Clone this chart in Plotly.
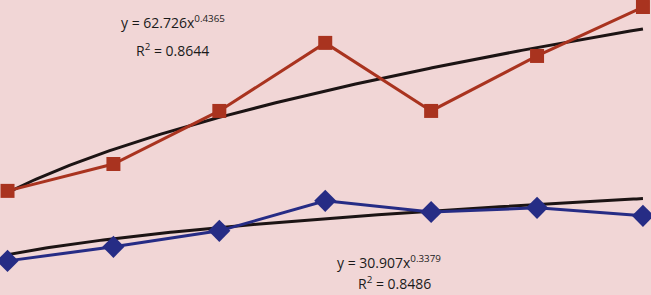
import numpy as np
import plotly.graph_objects as go

x_vals = [1, 2, 3, 4, 5, 6, 7]
red_vals = [63.6, 77.4, 104.6, 139.5, 104.6, 132.8, 157.9]
blue_vals = [27.7, 34.9, 43.1, 58.5, 52.8, 54.9, 50.8]

red_a, red_b, red_r2 = 62.726, 0.4365, 0.8644
blue_a, blue_b, blue_r2 = 30.907, 0.3379, 0.8486

BG = "#F1D6D6"
RED = "#A9331F"
BLUE = "#262C85"
TREND = "#1C1414"

xt = np.linspace(1, 7, 200)

fig = go.Figure()
fig.add_trace(go.Scatter(x=xt, y=red_a * xt ** red_b, mode="lines",
                         line=dict(color=TREND, width=3), hoverinfo="skip"))
fig.add_trace(go.Scatter(x=xt, y=blue_a * xt ** blue_b, mode="lines",
                         line=dict(color=TREND, width=3), hoverinfo="skip"))
fig.add_trace(go.Scatter(x=x_vals, y=red_vals, mode="lines+markers",
                         line=dict(color=RED, width=3),
                         marker=dict(symbol="square", size=14, color=RED)))
fig.add_trace(go.Scatter(x=x_vals, y=blue_vals, mode="lines+markers",
                         line=dict(color=BLUE, width=3),
                         marker=dict(symbol="diamond", size=17, color=BLUE)))

font = dict(family="Open Sans, sans-serif", size=14, color="#1a1a1a")
fig.add_annotation(x=0.183, y=0.925, xref="paper", yref="paper", showarrow=False,
                   xanchor="left", yanchor="middle",
                   text=f"y = {red_a}x<sup>{red_b}</sup>", font=font)
fig.add_annotation(x=0.265, y=0.83, xref="paper", yref="paper", showarrow=False,
                   xanchor="center", yanchor="middle",
                   text=f"R<sup>2</sup> = {red_r2}", font=font)
fig.add_annotation(x=0.514, y=0.112, xref="paper", yref="paper", showarrow=False,
                   xanchor="left", yanchor="middle",
                   text=f"y = {blue_a}x<sup>{blue_b}</sup>", font=font)
fig.add_annotation(x=0.606, y=0.04, xref="paper", yref="paper", showarrow=False,
                   xanchor="center", yanchor="middle",
                   text=f"R<sup>2</sup> = {blue_r2}", font=font)

fig.update_layout(
    width=651, height=295,
    margin=dict(l=0, r=0, t=0, b=0),
    paper_bgcolor=BG, plot_bgcolor=BG,
    showlegend=False,
    xaxis=dict(range=[0.929, 7.076], visible=False, showgrid=False, zeroline=False),
    yaxis=dict(range=[10.2, 161.5], visible=False, showgrid=False, zeroline=False),
)
fig.write_html("out.html", config={"displayModeBar": False},
               post_script="document.body.style.margin='0';document.body.style.overflow='hidden';")
